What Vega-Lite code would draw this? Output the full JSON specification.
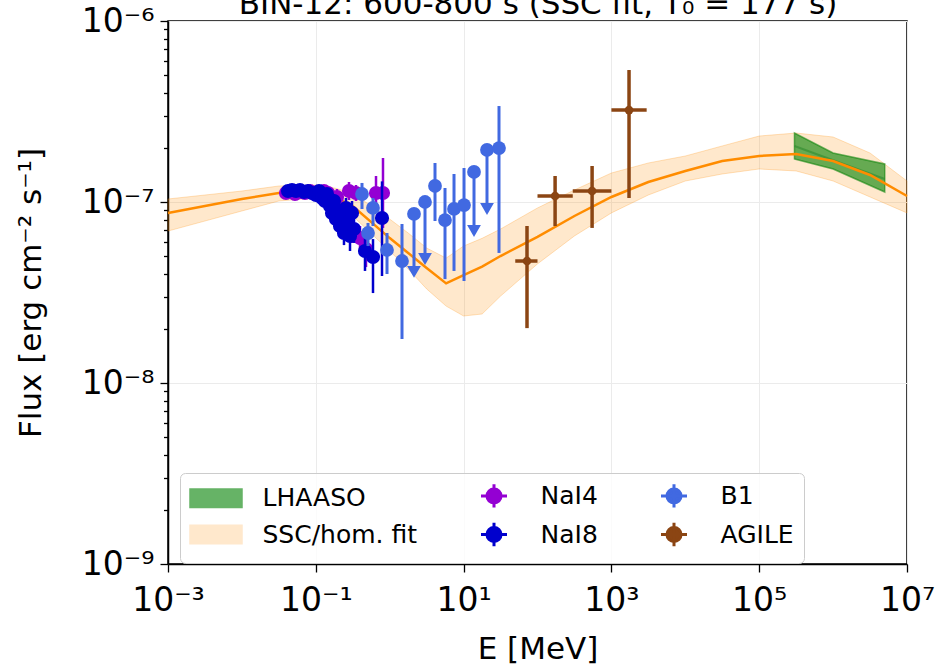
{
  "$schema": "https://vega.github.io/schema/vega-lite/v6.json",
  "autosize": "none",
  "width": 739,
  "height": 543,
  "padding": {"left": 168, "top": 21, "right": 29, "bottom": 101},
  "background": "white",
  "config": {
    "font": "DejaVu Sans",
    "view": {"stroke": "black", "strokeWidth": 1.5},
    "axis": {"labelFont": "DejaVu Sans", "labelFontSize": 33, "titleFont": "DejaVu Sans", "titleFontSize": 31, "titleFontWeight": "normal", "labelColor": "black", "titleColor": "black", "tickColor": "black", "domainColor": "black", "domainWidth": 1.5, "tickWidth": 1.3, "tickSize": 8, "gridColor": "#ebebeb", "gridWidth": 1}
  },
  "datasets": {
    "model": [
      {"series": "SSC/hom. fit", "E": 0.001, "F": 8.70e-8, "lo": 6.91e-8, "hi": 1.039e-7},
      {"series": "SSC/hom. fit", "E": 0.00316, "F": 9.50e-8, "lo": 7.85e-8, "hi": 1.093e-7},
      {"series": "SSC/hom. fit", "E": 0.01, "F": 1.039e-7, "lo": 8.92e-8, "hi": 1.15e-7},
      {"series": "SSC/hom. fit", "E": 0.0316, "F": 1.121e-7, "lo": 1.013e-7, "hi": 1.226e-7},
      {"series": "SSC/hom. fit", "E": 0.1, "F": 1.15e-7, "lo": 1.052e-7, "hi": 1.241e-7},
      {"series": "SSC/hom. fit", "E": 0.178, "F": 1.066e-7, "lo": 9.5e-8, "hi": 1.195e-7},
      {"series": "SSC/hom. fit", "E": 0.316, "F": 9.50e-8, "lo": 8.37e-8, "hi": 1.121e-7},
      {"series": "SSC/hom. fit", "E": 1.0, "F": 6.32e-8, "lo": 5.36e-8, "hi": 8.05e-8},
      {"series": "SSC/hom. fit", "E": 1.78, "F": 5.23e-8, "lo": 4.26e-8, "hi": 6.74e-8},
      {"series": "SSC/hom. fit", "E": 3.16, "F": 4.32e-8, "lo": 3.31e-8, "hi": 5.57e-8},
      {"series": "SSC/hom. fit", "E": 5.8, "F": 3.55e-8, "lo": 2.66e-8, "hi": 4.90e-8},
      {"series": "SSC/hom. fit", "E": 10, "F": 3.95e-8, "lo": 2.345e-8, "hi": 5.71e-8},
      {"series": "SSC/hom. fit", "E": 17.8, "F": 4.4e-8, "lo": 2.405e-8, "hi": 6.3e-8},
      {"series": "SSC/hom. fit", "E": 31.6, "F": 5.03e-8, "lo": 3.02e-8, "hi": 7.09e-8},
      {"series": "SSC/hom. fit", "E": 100, "F": 6.41e-8, "lo": 4.55e-8, "hi": 9.27e-8},
      {"series": "SSC/hom. fit", "E": 316, "F": 8.37e-8, "lo": 6.49e-8, "hi": 1.165e-7},
      {"series": "SSC/hom. fit", "E": 1000, "F": 1.066e-7, "lo": 8.70e-8, "hi": 1.446e-7},
      {"series": "SSC/hom. fit", "E": 3162, "F": 1.29e-7, "lo": 1.093e-7, "hi": 1.643e-7},
      {"series": "SSC/hom. fit", "E": 10000, "F": 1.484e-7, "lo": 1.306e-7, "hi": 1.795e-7},
      {"series": "SSC/hom. fit", "E": 31600, "F": 1.685e-7, "lo": 1.428e-7, "hi": 2.04e-7},
      {"series": "SSC/hom. fit", "E": 100000, "F": 1.795e-7, "lo": 1.522e-7, "hi": 2.315e-7},
      {"series": "SSC/hom. fit", "E": 316000, "F": 1.841e-7, "lo": 1.484e-7, "hi": 2.405e-7},
      {"series": "SSC/hom. fit", "E": 1000000, "F": 1.685e-7, "lo": 1.306e-7, "hi": 2.286e-7},
      {"series": "SSC/hom. fit", "E": 3160000, "F": 1.41e-7, "lo": 1.066e-7, "hi": 1.865e-7},
      {"series": "SSC/hom. fit", "E": 10000000, "F": 1.079e-7, "lo": 8.70e-8, "hi": 1.306e-7}
    ],
    "lhaaso": [
      {"series": "LHAASO", "E": 300000, "F": 2.04e-7, "lo": 1.728e-7, "hi": 2.405e-7},
      {"series": "LHAASO", "E": 1000000, "F": 1.70e-7, "lo": 1.522e-7, "hi": 1.865e-7},
      {"series": "LHAASO", "E": 5000000, "F": 1.34e-7, "lo": 1.136e-7, "hi": 1.622e-7}
    ],
    "pts": [
      {"series": "NaI4", "E": 0.03952, "F": 1.121e-7, "Flo": 1.066e-7, "Fhi": 1.180e-7},
      {"series": "NaI4", "E": 0.04618, "F": 1.150e-7, "Flo": 1.093e-7, "Fhi": 1.210e-7},
      {"series": "NaI4", "E": 0.05232, "F": 1.107e-7, "Flo": 1.052e-7, "Fhi": 1.165e-7},
      {"series": "NaI4", "E": 0.06112, "F": 1.136e-7, "Flo": 1.079e-7, "Fhi": 1.195e-7},
      {"series": "NaI4", "E": 0.07143, "F": 1.121e-7, "Flo": 1.052e-7, "Fhi": 1.195e-7},
      {"series": "NaI4", "E": 0.08346, "F": 1.150e-7, "Flo": 1.079e-7, "Fhi": 1.226e-7},
      {"series": "NaI4", "E": 0.09754, "F": 1.107e-7, "Flo": 1.039e-7, "Fhi": 1.180e-7},
      {"series": "NaI4", "E": 0.1140, "F": 1.079e-7, "Flo": 1.013e-7, "Fhi": 1.150e-7},
      {"series": "NaI4", "E": 0.1291, "F": 1.150e-7, "Flo": 1.066e-7, "Fhi": 1.241e-7},
      {"series": "NaI4", "E": 0.1463, "F": 1.121e-7, "Flo": 1.039e-7, "Fhi": 1.210e-7},
      {"series": "NaI4", "E": 0.1709, "F": 9.87e-8, "Flo": 9.03e-8, "Fhi": 1.079e-7},
      {"series": "NaI4", "E": 0.1936, "F": 1.066e-7, "Flo": 9.62e-8, "Fhi": 1.180e-7},
      {"series": "NaI4", "E": 0.2193, "F": 9.15e-8, "Flo": 8.16e-8, "Fhi": 1.026e-7},
      {"series": "NaI4", "E": 0.2484, "F": 7.85e-8, "Flo": 6.91e-8, "Fhi": 8.92e-8},
      {"series": "NaI4", "E": 0.2813, "F": 1.150e-7, "Flo": 1.026e-7, "Fhi": 1.29e-7},
      {"series": "NaI4", "E": 0.3090, "F": 6.91e-8, "Flo": 5.94e-8, "Fhi": 8.05e-8},
      {"series": "NaI4", "E": 0.3499, "F": 1.121e-7, "Flo": 1.013e-7, "Fhi": 1.241e-7},
      {"series": "NaI4", "E": 0.3963, "F": 6.32e-8, "Flo": 5.43e-8, "Fhi": 7.37e-8},
      {"series": "NaI4", "E": 0.4778, "F": 5.50e-8, "Flo": 4.37e-8, "Fhi": 6.91e-8},
      {"series": "NaI4", "E": 0.6527, "F": 1.121e-7, "Flo": 8.92e-8, "Fhi": 1.392e-7},
      {"series": "NaI4", "E": 0.8114, "F": 1.121e-7, "Flo": 7.19e-8, "Fhi": 1.750e-7},
      {"series": "NaI8", "E": 0.04205, "F": 1.150e-7, "Flo": 1.093e-7, "Fhi": 1.210e-7},
      {"series": "NaI8", "E": 0.04764, "F": 1.165e-7, "Flo": 1.107e-7, "Fhi": 1.226e-7},
      {"series": "NaI8", "E": 0.05398, "F": 1.150e-7, "Flo": 1.093e-7, "Fhi": 1.210e-7},
      {"series": "NaI8", "E": 0.06112, "F": 1.165e-7, "Flo": 1.107e-7, "Fhi": 1.226e-7},
      {"series": "NaI8", "E": 0.06923, "F": 1.136e-7, "Flo": 1.079e-7, "Fhi": 1.195e-7},
      {"series": "NaI8", "E": 0.07843, "F": 1.150e-7, "Flo": 1.079e-7, "Fhi": 1.226e-7},
      {"series": "NaI8", "E": 0.08883, "F": 1.121e-7, "Flo": 1.052e-7, "Fhi": 1.195e-7},
      {"series": "NaI8", "E": 0.1006, "F": 1.093e-7, "Flo": 1.026e-7, "Fhi": 1.165e-7},
      {"series": "NaI8", "E": 0.1105, "F": 1.150e-7, "Flo": 1.079e-7, "Fhi": 1.226e-7},
      {"series": "NaI8", "E": 0.1213, "F": 1.052e-7, "Flo": 9.75e-8, "Fhi": 1.136e-7},
      {"series": "NaI8", "E": 0.1331, "F": 1.013e-7, "Flo": 9.38e-8, "Fhi": 1.093e-7},
      {"series": "NaI8", "E": 0.1418, "F": 1.107e-7, "Flo": 1.026e-7, "Fhi": 1.195e-7},
      {"series": "NaI8", "E": 0.1557, "F": 9.50e-8, "Flo": 8.70e-8, "Fhi": 1.039e-7},
      {"series": "NaI8", "E": 0.1657, "F": 8.70e-8, "Flo": 7.85e-8, "Fhi": 9.62e-8},
      {"series": "NaI8", "E": 0.1763, "F": 1.013e-7, "Flo": 9.27e-8, "Fhi": 1.107e-7},
      {"series": "NaI8", "E": 0.1876, "F": 8.05e-8, "Flo": 7.19e-8, "Fhi": 9.03e-8},
      {"series": "NaI8", "E": 0.1997, "F": 8.92e-8, "Flo": 7.95e-8, "Fhi": 1.0e-7},
      {"series": "NaI8", "E": 0.2126, "F": 7.37e-8, "Flo": 6.49e-8, "Fhi": 8.37e-8},
      {"series": "NaI8", "E": 0.2262, "F": 8.37e-8, "Flo": 7.37e-8, "Fhi": 9.50e-8},
      {"series": "NaI8", "E": 0.2407, "F": 6.74e-8, "Flo": 5.78e-8, "Fhi": 7.85e-8},
      {"series": "NaI8", "E": 0.2563, "F": 9.27e-8, "Flo": 8.16e-8, "Fhi": 1.052e-7},
      {"series": "NaI8", "E": 0.2727, "F": 7.66e-8, "Flo": 6.57e-8, "Fhi": 8.92e-8},
      {"series": "NaI8", "E": 0.2903, "F": 6.49e-8, "Flo": 5.36e-8, "Fhi": 7.85e-8},
      {"series": "NaI8", "E": 0.3090, "F": 8.70e-8, "Flo": 7.47e-8, "Fhi": 1.013e-7},
      {"series": "NaI8", "E": 0.3288, "F": 7.09e-8, "Flo": 5.94e-8, "Fhi": 8.48e-8},
      {"series": "NaI8", "E": 0.4631, "F": 5.36e-8, "Flo": 4.16e-8, "Fhi": 6.91e-8},
      {"series": "NaI8", "E": 0.5943, "F": 4.97e-8, "Flo": 3.14e-8, "Fhi": 6.24e-8},
      {"series": "NaI8", "E": 0.7868, "F": 8.16e-8, "Flo": 3.9e-8, "Fhi": 1.3e-7},
      {"series": "B1", "E": 0.4218, "F": 1.107e-7, "Flo": 9.15e-8, "Fhi": 1.274e-7, "ul": 0},
      {"series": "B1", "E": 0.5085, "F": 6.74e-8, "Flo": 5.71e-8, "Fhi": 7.66e-8, "ul": 0},
      {"series": "B1", "E": 0.5943, "F": 9.27e-8, "Flo": 7.37e-8, "Fhi": 1.052e-7, "ul": 0},
      {"series": "B1", "E": 0.9194, "F": 5.43e-8, "Flo": 4.00e-8, "Fhi": 6.74e-8, "ul": 0},
      {"series": "B1", "E": 1.467, "F": 4.72e-8, "Flo": 1.750e-8, "Fhi": 7.56e-8, "ul": 0},
      {"series": "B1", "E": 2.132, "F": 8.59e-8, "Flo": 4.11e-8, "Fhi": 8.59e-8, "ul": 1},
      {"series": "B1", "E": 3.004, "F": 1.0e-7, "Flo": 4.84e-8, "Fhi": 1.0e-7, "ul": 1},
      {"series": "B1", "E": 4.102, "F": 1.226e-7, "Flo": 7.85e-8, "Fhi": 1.643e-7, "ul": 0},
      {"series": "B1", "E": 5.602, "F": 7.95e-8, "Flo": 3.75e-8, "Fhi": 1.195e-7, "ul": 0},
      {"series": "B1", "E": 7.417, "F": 9.15e-8, "Flo": 4.16e-8, "Fhi": 1.428e-7, "ul": 0},
      {"series": "B1", "E": 10.13, "F": 9.62e-8, "Flo": 3.66e-8, "Fhi": 1.541e-7, "ul": 0},
      {"series": "B1", "E": 13.83, "F": 1.465e-7, "Flo": 6.91e-8, "Fhi": 1.465e-7, "ul": 1},
      {"series": "B1", "E": 20.73, "F": 1.938e-7, "Flo": 9.15e-8, "Fhi": 1.938e-7, "ul": 1},
      {"series": "B1", "E": 30.13, "F": 1.987e-7, "Flo": 5.23e-8, "Fhi": 3.39e-7, "ul": 0},
      {"series": "AGILE", "E": 72.1, "Elo": 50, "Ehi": 100, "F": 4.72e-8, "Flo": 2.01e-8, "Fhi": 7.37e-8},
      {"series": "AGILE", "E": 173, "Elo": 100, "Ehi": 300, "F": 1.079e-7, "Flo": 7.37e-8, "Fhi": 1.392e-7},
      {"series": "AGILE", "E": 548, "Elo": 300, "Ehi": 1000, "F": 1.150e-7, "Flo": 7.19e-8, "Fhi": 1.581e-7},
      {"series": "AGILE", "E": 1732, "Elo": 1000, "Ehi": 3000, "F": 3.22e-7, "Flo": 1.052e-7, "Fhi": 5.36e-7}
    ]
  },
  "encoding": {
    "x": {"field": "E", "type": "quantitative", "scale": {"type": "log", "domain": [0.001, 10000000], "nice": false}, "axis": null},
    "color": {"field": "series", "type": "nominal",
      "scale": {"domain": ["LHAASO", "SSC/hom. fit", "NaI4", "NaI8", "B1", "AGILE"], "range": ["#66b366", "#ffe8cc", "#9400d3", "#0000cd", "#4169e1", "#8b4513"]},
      "legend": {"orient": "none", "legendX": 12, "legendY": 452, "columns": 3, "title": null, "labelFontSize": 25, "labelFont": "DejaVu Sans", "labelColor": "black", "labelLimit": 400, "labelOffset": 34, "symbolOffset": 13.5, "columnPadding": 50, "rowPadding": 2, "padding": 10, "fillColor": "rgba(255,255,255,0.8)", "strokeColor": "#cccccc", "cornerRadius": 5,
        "encode": {"symbols": {"update": {
          "shape": {"signal": "indexof(['LHAASO','SSC/hom. fit'], datum.value) >= 0 ? 'M-1,-0.36H1V0.36H-1Z' : 'M-0.5,0H0.5M0,-0.45V0.45M0.27,0A0.27,0.27 0 1,1 -0.27,0A0.27,0.27 0 1,1 0.27,0Z'"},
          "strokeWidth": {"signal": "indexof(['LHAASO','SSC/hom. fit'], datum.value) >= 0 ? 1.5 : 3"},
          "size": {"value": 2704},
          "opacity": {"value": 1}
        }}}}
    }
  },
  "layer": [
    {"data": {"name": "model"}, "mark": {"type": "area", "fillOpacity": 0.2, "stroke": "#ff8c00", "strokeOpacity": 0.25, "strokeWidth": 1},
      "encoding": {"color": {"value": "#ff8c00"},
        "x": {"field": "E", "type": "quantitative", "scale": {"type": "log", "domain": [0.001, 10000000], "nice": false},
          "axis": {"title": "E [MeV]", "values": [0.001, 0.1, 10, 1000, 100000, 10000000], "labelExpr": "['10⁻³','10⁻²','10⁻¹','10⁰','10¹','10²','10³','10⁴','10⁵','10⁶','10⁷'][round(log(datum.value)/LN10)+3]", "grid": true, "labelPadding": 12, "titlePadding": 17, "labelFlush": false}},
        "y": {"field": "lo", "type": "quantitative", "scale": {"type": "log", "domain": [1e-9, 1e-6], "nice": false},
        "axis": {"title": "Flux [erg cm⁻² s⁻¹]", "values": [1e-9, 2e-9, 3e-9, 4e-9, 5e-9, 6e-9, 7e-9, 8e-9, 9e-9, 1e-8, 2e-8, 3e-8, 4e-8, 5e-8, 6e-8, 7e-8, 8e-8, 9e-8, 1e-7, 2e-7, 3e-7, 4e-7, 5e-7, 6e-7, 7e-7, 8e-7, 9e-7, 1e-6],
          "labelExpr": "abs(log(datum.value)/LN10 - round(log(datum.value)/LN10)) < 0.01 ? ['10⁻⁹','10⁻⁸','10⁻⁷','10⁻⁶'][round(log(datum.value)/LN10)+9] : ''",
          "grid": true, "labelPadding": 6, "titlePadding": 34, "labelFlush": false,
          "tickSize": {"condition": {"test": "abs(log(datum.value)/LN10 - round(log(datum.value)/LN10)) < 0.01", "value": 8}, "value": 4.5},
          "gridOpacity": {"condition": {"test": "abs(log(datum.value)/LN10 - round(log(datum.value)/LN10)) < 0.01", "value": 1}, "value": 0}}},
        "y2": {"field": "hi"}}},
    {"data": {"name": "lhaaso"}, "mark": {"type": "area", "fillOpacity": 0.6, "stroke": "#008000", "strokeOpacity": 0.55, "strokeWidth": 1.5},
      "encoding": {"color": {"value": "#008000"},
        "x": {"field": "E", "type": "quantitative", "scale": {"type": "log", "domain": [0.001, 10000000], "nice": false},
          "axis": {"orient": "top", "labels": false, "ticks": false, "domain": false, "grid": false, "title": "BIN-12: 600-800 s (SSC fit, T₀ = 177 s)", "titleFontSize": 31, "titleY": -8, "titleBaseline": "alphabetic", "titleAnchor": "middle"}},
        "y": {"field": "lo", "type": "quantitative", "scale": {"type": "log", "domain": [1e-9, 1e-6], "nice": false}}, "y2": {"field": "hi"}}},
    {"data": {"name": "lhaaso"}, "mark": {"type": "line", "strokeWidth": 2, "opacity": 0.6},
      "encoding": {"y": {"field": "F", "type": "quantitative", "scale": {"type": "log", "domain": [1e-9, 1e-6], "nice": false}}, "color": {"value": "#2f8a2f"}}},
    {"data": {"name": "model"}, "mark": {"type": "line", "strokeWidth": 2.5},
      "encoding": {"y": {"field": "F", "type": "quantitative", "scale": {"type": "log", "domain": [1e-9, 1e-6], "nice": false}}, "color": {"value": "#ff8c00"}}},
    {"data": {"name": "pts"}, "transform": [{"filter": "datum.series === 'NaI4'"}], "mark": {"type": "rule", "strokeWidth": 2.5},
      "encoding": {"y": {"field": "Flo", "type": "quantitative", "scale": {"type": "log", "domain": [1e-9, 1e-6], "nice": false}}, "y2": {"field": "Fhi"}}},
    {"data": {"name": "pts"}, "transform": [{"filter": "datum.series === 'NaI4'"}], "mark": {"type": "point", "filled": true, "size": 200, "opacity": 1},
      "encoding": {"y": {"field": "F", "type": "quantitative", "scale": {"type": "log", "domain": [1e-9, 1e-6], "nice": false}}}},
    {"data": {"name": "pts"}, "transform": [{"filter": "datum.series === 'NaI8'"}], "mark": {"type": "rule", "strokeWidth": 2.5},
      "encoding": {"y": {"field": "Flo", "type": "quantitative", "scale": {"type": "log", "domain": [1e-9, 1e-6], "nice": false}}, "y2": {"field": "Fhi"}}},
    {"data": {"name": "pts"}, "transform": [{"filter": "datum.series === 'NaI8'"}], "mark": {"type": "point", "filled": true, "size": 200, "opacity": 1},
      "encoding": {"y": {"field": "F", "type": "quantitative", "scale": {"type": "log", "domain": [1e-9, 1e-6], "nice": false}}}},
    {"data": {"name": "pts"}, "transform": [{"filter": "datum.series === 'B1'"}], "mark": {"type": "rule", "strokeWidth": 3},
      "encoding": {"y": {"field": "Flo", "type": "quantitative", "scale": {"type": "log", "domain": [1e-9, 1e-6], "nice": false}}, "y2": {"field": "Fhi"}}},
    {"data": {"name": "pts"}, "transform": [{"filter": "datum.series === 'B1'"}], "mark": {"type": "point", "filled": true, "size": 190, "opacity": 1},
      "encoding": {"y": {"field": "F", "type": "quantitative", "scale": {"type": "log", "domain": [1e-9, 1e-6], "nice": false}}}},
    {"data": {"name": "pts"}, "transform": [{"filter": "datum.series === 'B1' && datum.ul === 1"}], "mark": {"type": "point", "shape": "triangle-down", "filled": true, "size": 190, "opacity": 1},
      "encoding": {"y": {"field": "Flo", "type": "quantitative", "scale": {"type": "log", "domain": [1e-9, 1e-6], "nice": false}}}},
    {"data": {"name": "pts"}, "transform": [{"filter": "datum.series === 'AGILE'"}], "mark": {"type": "rule", "strokeWidth": 3.5},
      "encoding": {"y": {"field": "Flo", "type": "quantitative", "scale": {"type": "log", "domain": [1e-9, 1e-6], "nice": false}}, "y2": {"field": "Fhi"}}},
    {"data": {"name": "pts"}, "transform": [{"filter": "datum.series === 'AGILE'"}], "mark": {"type": "rule", "strokeWidth": 3.5},
      "encoding": {"x": {"field": "Elo", "type": "quantitative", "scale": {"type": "log", "domain": [0.001, 10000000], "nice": false}, "axis": null}, "x2": {"field": "Ehi"},
        "y": {"field": "F", "type": "quantitative", "scale": {"type": "log", "domain": [1e-9, 1e-6], "nice": false}}}},
    {"data": {"name": "pts"}, "transform": [{"filter": "datum.series === 'AGILE'"}], "mark": {"type": "point", "filled": true, "size": 75, "opacity": 1},
      "encoding": {"y": {"field": "F", "type": "quantitative", "scale": {"type": "log", "domain": [1e-9, 1e-6], "nice": false}}}}
  ],
  "resolve": {"axis": {"x": "independent"}}
}
